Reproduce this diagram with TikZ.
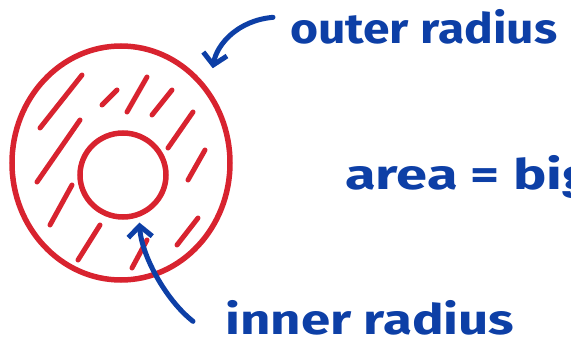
\documentclass[tikz,border=0pt]{standalone}
\usepackage{fontspec,graphicx}
\setmainfont{Fira Sans}
\usetikzlibrary{arrows.meta,shapes.geometric}
\definecolor{penred}{HTML}{D8232F}
\definecolor{penblue}{HTML}{0D3FA6}
\newcommand\penwide[2][1.3]{\scalebox{#1}[1.05]{#2}}

\begin{document}
\begin{tikzpicture}[x=1pt,y=-1pt]
\tikzset{
  ring/.style={ellipse,draw=penred,line width=5.5pt,inner sep=0pt,outer sep=0pt},
  hatch/.style={draw=penred,line width=5pt,line cap=round},
  scribble/.style={text=penblue,font=\fontsize{40}{44}\selectfont\bfseries,inner sep=0pt,anchor=base west},
  pointer/.style={draw=penblue,line width=5pt,line cap=round,line join=round,
    -{Straight Barb[length=11pt,width=24pt,line width=5pt]}}
}
\useasboundingbox (0,0) rectangle (571,353);
\clip (0,0) rectangle (571,353);
% the ring
\node[ring,minimum width=218pt,minimum height=234pt] (outer) at (121,163) {};
\node[ring,minimum width=86pt,minimum height=84pt] (inner) at (123,175) {};
% shading strokes
\foreach \a/\b/\c/\d in {40/128/82/75, 37/182/80/120, 50/225/72/185, 78/260/100/225,
    102/105/117/90, 127/112/147/77, 152/115/172/90, 168/148/193/112,
    188/180/205/150, 177/245/198/218, 132/268/147/240}
  \draw[hatch] (\a,\b) -- (\c,\d);
% labels
\node[scribble] (outerlbl) at (290,44) {\penwide[1.2]{outer radius}};
\node[scribble] (arealbl) at (345,189) {\penwide[1.4]{area = big}};
\node[scribble] (innerlbl) at (225,334) {\penwide[1.32]{inner radius}};
% arrows
\draw[pointer] ([xshift=-17pt,yshift=10pt]outerlbl.west)
  .. controls +(-35,3) and +(4,-24) .. ([shift={(12,-15)}]outer.45);
\draw[pointer] ([xshift=-32pt,yshift=-4pt]innerlbl.west)
  .. controls +(-28,-22) and +(2,32) .. ([shift={(2,8)}]inner.-70);
\end{tikzpicture}
\end{document}
